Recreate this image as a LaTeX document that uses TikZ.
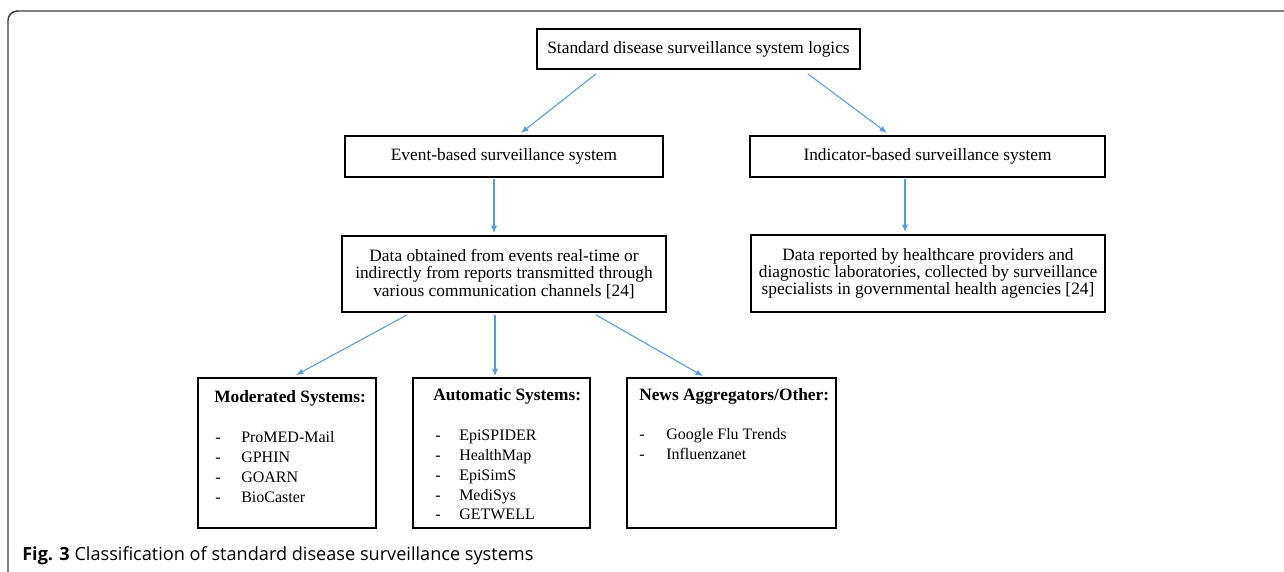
\documentclass[tikz,border=0pt]{standalone}
\usepackage{fontspec}
\setmainfont{Liberation Serif}
\newfontfamily\capfont{Open Sans}
\usetikzlibrary{arrows.meta,calc}
\definecolor{arrowblue}{HTML}{5B9BD5}
\definecolor{framegray}{HTML}{3C3C3C}
\tikzset{
  box/.style={draw,line width=1.4pt,align=center,inner sep=2pt,font=\fontsize{13}{13}\selectfont},
  listbox/.style={draw,line width=1.4pt,minimum width=#1,minimum height=112.5pt,inner sep=0pt},
  item/.style={anchor=base west,inner sep=0pt,font=\fontsize{12}{15}\selectfont},
  head/.style={item,font=\fontsize{13}{15}\selectfont\bfseries},
  arr/.style={draw=arrowblue,line width=0.8pt,-{Latex[length=5.5pt,width=4.5pt]}}
}
\begin{document}
\begin{tikzpicture}[x=0.75pt,y=-0.75pt]
	\useasboundingbox (0,0) rectangle (1284,571);
	% frame round the figure
	\draw[framegray,line width=1.1pt,rounded corners=7pt] (8,580) -- (8,11) -- (1295,11);
	
	\node[box,minimum width=242pt,minimum height=30pt] (top) at (698.5,49) {Standard disease surveillance system logics};
	\node[box,minimum width=238.5pt,minimum height=31pt] (event) at (504,156.5) {Event-based surveillance system};
	\node[box,minimum width=266pt,minimum height=31pt] (indicator) at (927.5,156.5) {Indicator-based surveillance system};
	\node[box,minimum width=243pt,minimum height=57pt] (dataE) at (504,274) {Data obtained from events real-time or\\indirectly from reports transmitted through\\various communication channels [24]};
	\node[box,minimum width=265.5pt,minimum height=57.75pt] (dataI) at (928,273.5) {Data reported by healthcare providers and\\diagnostic laboratories, collected by surveillance\\specialists in governmental health agencies [24]};
	
	\node[listbox=133.5pt] (mod) at (287,453) {};
	\node[listbox=133pt] (auto) at (501.5,453) {};
	\node[listbox=157pt] (news) at (731.5,453) {};
	
	\node[head] (modHead) at (214,402) {Moderated Systems:};
	\foreach \name [count=\i] in {ProMED-Mail,GPHIN,GOARN,BioCaster}{% one line per system
		\node[item] (modDash\i) at (215,422+20*\i) {-};
		\node[item] (modItem\i) at (241,422+20*\i) {\name};
	}
	\node[head] (autoHead) at (433,400) {Automatic Systems:};
	\foreach \name [count=\i] in {EpiSPIDER,HealthMap,EpiSimS,MediSys,GETWELL}{%
		\node[item] (autoDash\i) at (435,421+19.75*\i) {-};
		\node[item] (autoItem\i) at (459,421+19.75*\i) {\name};
	}
	\node[head] (newsHead) at (639,400) {News Aggregators/Other:};
	\foreach \name [count=\i] in {Google Flu Trends,Influenzanet}{%
		\node[item] (newsDash\i) at (639,419+20*\i) {-};
		\node[item] (newsItem\i) at (666,419+20*\i) {\name};
	}
	
	\draw[arr] ($(top.south)+(-102.5,4)$) -- ($(event.north)+(17,-2)$);
	\draw[arr] ($(top.south)+(109.5,4)$) -- ($(indicator.north)+(-40.5,-2)$);
	\draw[arr] ($(event.south)+(-10,1)$) -- ($(dataE.north)+(-10,-2)$);
	\draw[arr] ($(indicator.south)+(-22.5,1)$) -- ($(dataI.north)+(-23,-2)$);
	\draw[arr] ($(dataE.south)+(-97,2)$) -- ($(mod.north)+(9,-2)$);
	\draw[arr] ($(dataE.south)+(-9,2)$) -- ($(auto.north)+(-6.5,-1)$);
	\draw[arr] ($(dataE.south)+(92,2)$) -- ($(news.north)+(-28.5,-1)$);
	
	\node[anchor=base west,inner sep=0pt,font=\capfont\fontsize{13.6}{16}\selectfont] (caption) at (22,560) {\textbf{Fig. 3} Classification of standard disease surveillance systems};
\end{tikzpicture}
\end{document}
